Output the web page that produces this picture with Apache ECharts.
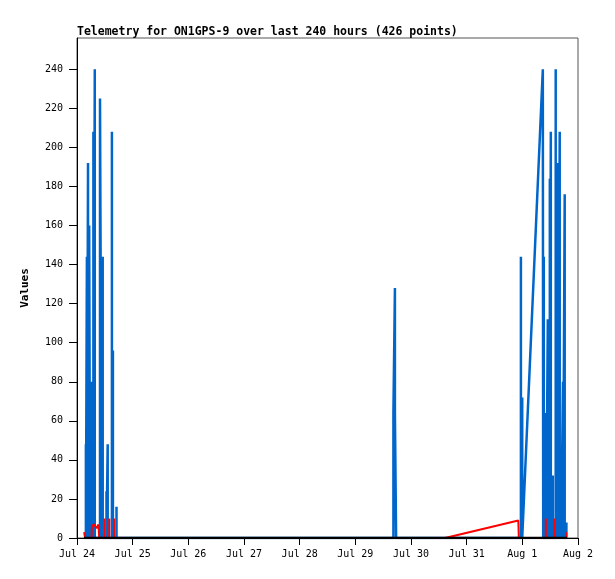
<!DOCTYPE html>
<html>
<head>
<meta charset="utf-8">
<script src="https://cdn.jsdelivr.net/npm/echarts@6/dist/echarts.min.js"></script>
<style>
html, body { margin: 0; padding: 0; background: #fff; }
#chart { width: 615px; height: 579px; }
</style>
</head>
<body>
<div id="chart"></div>
<script>
// telemetry readings (UTC, year assumed)
var blueTimes = [
    '07-24 03:50', '07-24 03:50', '07-24 03:50',
    '07-24 04:16', '07-24 04:16', '07-24 04:16',
    '07-24 04:45', '07-24 04:45', '07-24 04:45',
    '07-24 05:15', '07-24 05:15', '07-24 05:38', '07-24 05:38',
    '07-24 06:10', '07-24 06:10', '07-24 06:10',
    '07-24 07:04', '07-24 07:04', '07-24 07:04',
    '07-24 07:40', '07-24 07:40', '07-24 07:40',
    '07-24 09:55', '07-24 09:55', '07-24 10:39', '07-24 10:39',
    '07-24 11:05', '07-24 11:05', '07-24 11:05',
    '07-24 12:43', '07-24 12:43', '07-24 12:43',
    '07-24 13:14', '07-24 13:14', '07-24 13:14',
    '07-24 15:03', '07-24 15:03', '07-24 15:03',
    '07-24 15:29', '07-24 15:29', '07-24 15:29',
    '07-24 17:02', '07-24 17:02', '07-24 17:02',
    '07-29 16:25', '07-29 16:25', '07-29 17:04', '07-29 17:04', '07-29 17:04', '07-29 17:35', '07-29 17:35',
    '07-31 23:23', '07-31 23:23', '07-31 23:23',
    '07-31 23:57', '07-31 23:57', '07-31 23:57',
    '08-01 08:50', '08-01 09:00',
    '08-01 09:15', '08-01 09:15', '08-01 09:15',
    '08-01 10:18', '08-01 10:18', '08-01 10:18',
    '08-01 10:59', '08-01 10:59', '08-01 10:59',
    '08-01 11:51', '08-01 11:51', '08-01 11:51',
    '08-01 12:17', '08-01 12:17', '08-01 12:17',
    '08-01 13:08', '08-01 13:08', '08-01 13:08',
    '08-01 14:23', '08-01 14:23', '08-01 14:23',
    '08-01 15:00', '08-01 15:00', '08-01 15:25', '08-01 15:25',
    '08-01 16:07', '08-01 16:07', '08-01 16:07',
    '08-01 16:46', '08-01 16:46', '08-01 16:46',
    '08-01 17:32', '08-01 17:32', '08-01 17:32',
    '08-01 18:16', '08-01 18:16', '08-01 18:16',
    '08-01 19:00', '08-01 19:00', '08-01 19:00'
];
var blueValues = [
    0, 48, 0,
    0, 144, 0,
    0, 192, 0,
    0, 160, 160, 0,
    0, 80, 0,
    0, 208, 0,
    0, 240, 0,
    0, 225, 225, 0,
    0, 144, 0,
    0, 24, 0,
    0, 48, 0,
    0, 208, 0,
    0, 96, 0,
    0, 16, 0,
    0, 64, 64, 128, 64, 64, 0,
    0, 144, 0,
    0, 72, 0,
    240, 0,
    0, 144, 0,
    0, 64, 0,
    0, 112, 0,
    0, 184, 0,
    0, 208, 0,
    0, 32, 0,
    0, 240, 0,
    0, 192, 192, 0,
    0, 208, 0,
    0, 16, 0,
    0, 80, 0,
    0, 176, 0,
    0, 8, 0
];

var redTimes = [
    '07-24 03:05', '07-24 03:25', '07-24 03:30',
    '07-24 06:15', '07-24 06:25', '07-24 07:20', '07-24 08:00', '07-24 08:25', '07-24 09:15', '07-24 09:35',
    '07-24 11:56', '07-24 11:56', '07-24 11:56',
    '07-24 13:56', '07-24 13:56', '07-24 13:56',
    '07-24 16:05', '07-24 16:05', '07-24 16:05',
    '07-30 14:40', '07-31 22:16', '07-31 22:29',
    '08-01 10:07', '08-01 10:07', '08-01 10:07',
    '08-01 13:52', '08-01 13:52', '08-01 13:52',
    '08-01 18:55', '08-01 18:55', '08-01 19:10'
];
var redValues = [
    3, 3, 0,
    0, 6, 7, 6, 5, 7, 0,
    0, 10, 0,
    0, 10, 0,
    0, 10, 0,
    0, 9, 0,
    0, 10, 0,
    0, 10, 0,
    0, 3, 3
];

var blackTimes = ['07-24 03:00', '07-27 12:00', '07-30 12:00', '08-01 19:15'];
var blackValues = [0, 0, 0, 0];

var yTicks = [0, 20, 40, 60, 80, 100, 120, 140, 160, 180, 200, 220, 240];
var xStart = '07-24 00:00';
var xEnd = '08-02 00:00';
var monthNames = ['Jan', 'Feb', 'Mar', 'Apr', 'May', 'Jun', 'Jul', 'Aug', 'Sep', 'Oct', 'Nov', 'Dec'];

var DAY = 86400000;
var FONT = '"DejaVu Sans Mono", "Liberation Mono", monospace';

//'MM-DD HH:mm' -> utc ms
function toTime(s) {
    var p = s.split(/[- :]/);
    return Date.UTC(2024, +p[0] - 1, +p[1], +p[2], +p[3]);
}

function pairs(times, values) {
    var out = [];
    for (var i = 0; i < times.length; i++) {
        out.push([toTime(times[i]), values[i]]);
    }
    return out;
}

function lineSeries(name, color, data, z, width) {
    return {
        name: name,
        type: 'line',
        data: data,
        showSymbol: false,
        symbol: 'none',
        z: z,
        lineStyle: { color: color, width: width },
        emphasis: { disabled: true },
        animation: false
    };
}

var chart = echarts.init(document.getElementById('chart'));

chart.setOption({
    backgroundColor: '#fff',
    animation: false,
    title: {
        text: 'Telemetry for ON1GPS-9 over last 240 hours (426 points)',
        left: 77,
        top: 26,
        padding: 0,
        textStyle: { fontFamily: FONT, fontSize: 11.5, fontWeight: 'bold', color: '#000' }
    },
    grid: {
        left: 77,
        right: 37,
        top: 38,
        bottom: 41,
        show: true,
        borderColor: '#555',
        borderWidth: 1,
        containLabel: false
    },
    xAxis: {
        type: 'value',
        min: toTime(xStart),
        max: toTime(xEnd),
        interval: DAY,
        splitLine: { show: false },
        axisLine: { lineStyle: { color: '#000', width: 1 } },
        axisTick: { length: 7, lineStyle: { color: '#000' } },
        axisLabel: {
            margin: 11,
            showMinLabel: true,
            showMaxLabel: true,
            fontFamily: FONT,
            fontSize: 10,
            color: '#000',
            formatter: function (v) {
                var d = new Date(v);
                return monthNames[d.getUTCMonth()] + ' ' + d.getUTCDate();
            }
        }
    },
    yAxis: {
        type: 'value',
        min: 0,
        max: 256,
        interval: 20,
        name: 'Values',
        nameLocation: 'middle',
        nameGap: 46,
        nameTextStyle: { fontFamily: FONT, fontSize: 11, fontWeight: 'bold', color: '#000' },
        splitLine: { show: false },
        axisLine: { show: true, lineStyle: { color: '#000', width: 1 } },
        axisTick: { length: 8, customValues: yTicks, lineStyle: { color: '#000' } },
        axisLabel: {
            margin: 14,
            customValues: yTicks,
            fontFamily: FONT,
            fontSize: 10,
            color: '#000'
        }
    },
    series: [
        lineSeries('ch1', '#0066cc', pairs(blueTimes, blueValues), 2, 2.5),
        lineSeries('ch2', '#ff0000', pairs(redTimes, redValues), 3, 2),
        lineSeries('ch3', '#000000', pairs(blackTimes, blackValues), 4, 2.5)
    ]
});
</script>
</body>
</html>
